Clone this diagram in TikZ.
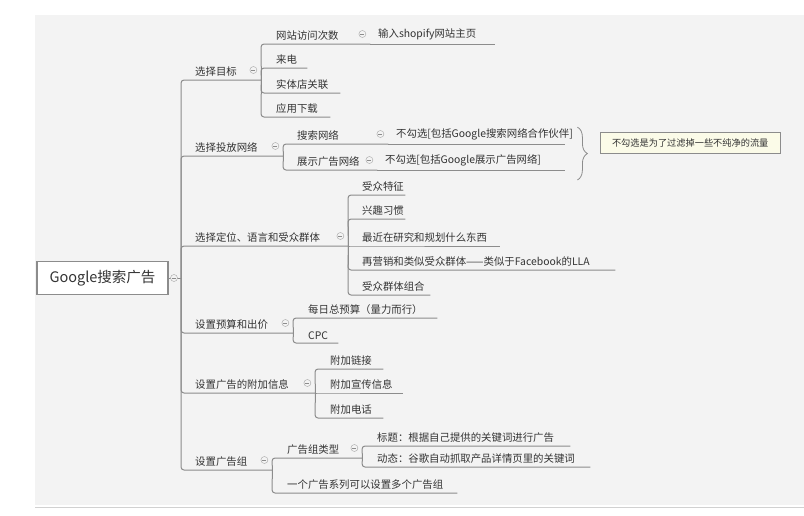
\documentclass[tikz,border=0pt]{standalone}
\usepackage{fontspec}
\setmainfont{Noto Sans CJK SC}
\usetikzlibrary{positioning}
\usetikzlibrary{decorations.pathreplacing}
\definecolor{bgcol}{HTML}{F3F3F3}
\definecolor{linecol}{HTML}{8C8C8C}
\definecolor{txtcol}{HTML}{333333}
\definecolor{notecol}{HTML}{FBFBE8}
\tikzset{
	topic/.style={anchor=south west, inner xsep=0pt, inner ysep=3.5pt, align=left, text=txtcol, font=\fontsize{10.4}{12}\selectfont},
	branch/.style={draw=linecol, line width=1pt, rounded corners=3pt},
	fold/.style={circle, draw=linecol!80, fill=bgcol, minimum size=7pt, inner sep=0pt,
		path picture={\draw[linecol, line width=0.5pt] ([xshift=-2pt]path picture bounding box.center) -- ([xshift=2pt]path picture bounding box.center);}},
	rootbox/.style={draw=linecol, line width=1.1pt, fill=white, minimum width=131pt, minimum height=33pt, text=txtcol, font=\fontsize{14.5}{16}\selectfont},
	% yellow comment box
	note/.style={draw=linecol, fill=notecol, anchor=west, minimum width=180pt, minimum height=21pt, inner sep=3pt, text=txtcol, font=\fontsize{9.2}{10}\selectfont},
}
\newcommand{\ind}[1]{\hspace*{#1pt}}

\begin{document}
\begin{tikzpicture}[x=1pt, y=-1pt]
	\useasboundingbox (0,0) rectangle (804,515);
	\fill[bgcol] (35,15) rectangle (804,505);
	\draw[linecol!40] (35,507) -- (804,507);
	
	\node (root) [rootbox] at (102.5,278) {Google搜索广告};
	\coordinate (rootj) at (181,278);
	
	% level 1
	\node (goal) [topic, text width=80pt] at (181,80) {\ind{14}选择目标};
	\node (net) [topic, text width=102pt] at (181,156) {\ind{14}选择投放网络};
	\node (aud) [topic, text width=167pt] at (181,246) {\ind{14}选择定位、语言和受众群体};
	\node (bud) [topic, text width=112pt] at (181,333) {\ind{14}设置预算和出价};
	\node (ext) [topic, text width=134pt] at (181,393) {\ind{14}设置广告的附加信息};
	\node (grp) [topic, text width=91pt] at (181,470) {\ind{14}设置广告组};
	
	% level 2
	\node (visit) [topic, text width=109pt] at (261,44) {\ind{15}网站访问次数};
	\node (call) [topic, text width=46pt] at (261,68) {\ind{15}来电};
	\node (store) [topic, text width=79pt] at (261,93) {\ind{15}实体店关联};
	\node (app) [topic, text width=69pt] at (261,117) {\ind{15}应用下载};
	\node (shop) [topic, text width=125pt] at (370,44) {\ind{8}输入shopify网站主页};
	
	\node (search) [topic, text width=105pt] at (283,144) {\ind{14}搜索网络};
	\node (disp) [topic, text width=94pt] at (283,170) {\ind{14}展示广告网络};
	\node (search2) [topic, text width=177pt] at (388,144) {\ind{8}不勾选[包括Google搜索网络合作伙伴]};
	\node (disp2) [topic, text width=188pt] at (377,170) {\ind{8}不勾选[包括Google展示广告网络]};
	
	\node (feat) [topic, text width=57pt] at (348,195) {\ind{14}受众特征};
	\node (habit) [topic, text width=57pt] at (348,219) {\ind{14}兴趣习惯};
	\node (recent) [topic, text width=152pt] at (348,246) {\ind{14}最近在研究和规划什么东西};
	\node (remkt) [topic, text width=267pt] at (348,270) {\ind{14}再营销和类似受众群体——类似于Facebook的LLA};
	\node (combo) [topic, text width=82pt] at (348,295) {\ind{14}受众群体组合};
	
	\node (daily) [topic, text width=144pt] at (293,318) {\ind{15}每日总预算（量力而行）};
	\node (cpc) [topic, text width=45pt] at (293,343) {\ind{15}CPC};
	
	\node (link) [topic, text width=68pt] at (315,369) {\ind{15}附加链接};
	\node (promo) [topic, text width=88pt] at (315,393) {\ind{15}附加宣传信息};
	\node (phone) [topic, text width=68pt] at (315,418) {\ind{15}附加电话};
	
	\node (gtype) [topic, text width=90pt] at (272,458) {\ind{15}广告组类型};
	\node (multi) [topic, text width=185pt] at (272,493) {\ind{15}一个广告系列可以设置多个广告组};
	\node (title) [topic, text width=208pt] at (362,446) {\ind{15}标题：根据自己提供的关键词进行广告};
	\node (dyn) [topic, text width=228pt] at (362,467) {\ind{15}动态：谷歌自动抓取产品详情页里的关键词};
	
	% connectors
	\draw[branch, rounded corners=0pt] (root.east) -- (rootj);
	\foreach \t in {goal, net, aud, bud, ext, grp}
		\draw[branch] (rootj) -- (\t.south west) -- (\t.south east);
	\foreach \t in {visit, call, store, app}
		\draw[branch] (goal.south east) -- (\t.south west) -- (\t.south east);
	\foreach \t in {search, disp}
		\draw[branch] (net.south east) -- (\t.south west) -- (\t.south east);
	\foreach \t in {feat, habit, recent, remkt, combo}
		\draw[branch] (aud.south east) -- (\t.south west) -- (\t.south east);
	\foreach \t in {daily, cpc}
		\draw[branch] (bud.south east) -- (\t.south west) -- (\t.south east);
	\foreach \t in {link, promo, phone}
		\draw[branch] (ext.south east) -- (\t.south west) -- (\t.south east);
	\foreach \t in {gtype, multi}
		\draw[branch] (grp.south east) -- (\t.south west) -- (\t.south east);
	\foreach \t in {title, dyn}
		\draw[branch] (gtype.south east) -- (\t.south west) -- (\t.south east);
	\draw[branch] (visit.south east) -- (shop.south east);
	\draw[branch] (search.south east) -- (search2.south east);
	\draw[branch] (disp.south east) -- (disp2.south east);
	
	% fold markers
	\node[fold] at (174,278) {};
	\foreach \t in {goal, net, aud, bud, ext, grp, visit, search, disp, gtype}
		\node[fold] at ([xshift=-8pt, yshift=10pt]\t.south east) {};
	
	% brace and comment
	\draw[linecol, line width=0.8pt, decorate, decoration={brace, amplitude=10pt}]
		([xshift=12pt, yshift=-2pt]search2.north east) coordinate (bt)
		-- ([xshift=12pt, yshift=-10pt]disp2.south east) coordinate (bb);
	\node (hint) [note] at (600,143) {不勾选是为了过滤掉一些不纯净的流量};
\end{tikzpicture}
\end{document}
